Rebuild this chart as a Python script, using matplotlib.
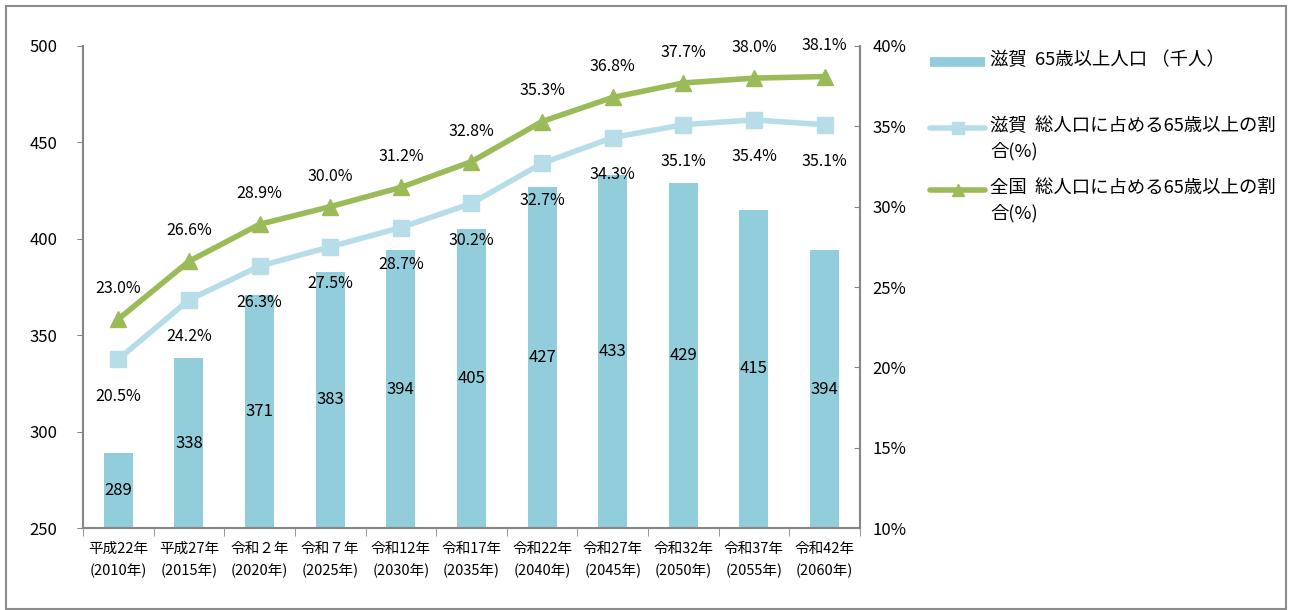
import matplotlib
matplotlib.use("Agg")
import matplotlib.pyplot as plt
from matplotlib.lines import Line2D
from matplotlib.patches import Rectangle
import numpy as np

plt.rcParams['font.family'] = ['Noto Sans CJK JP', 'DejaVu Sans']

categories = ["平成22年\n(2010年)", "平成27年\n(2015年)", "令和２年\n(2020年)", "令和７年\n(2025年)",
              "令和12年\n(2030年)", "令和17年\n(2035年)", "令和22年\n(2040年)", "令和27年\n(2045年)",
              "令和32年\n(2050年)", "令和37年\n(2055年)", "令和42年\n(2060年)"]
shiga_pop = [289, 338, 371, 383, 394, 405, 427, 433, 429, 415, 394]
shiga_pct = [20.5, 24.2, 26.3, 27.5, 28.7, 30.2, 32.7, 34.3, 35.1, 35.4, 35.1]
japan_pct = [23.0, 26.6, 28.9, 30.0, 31.2, 32.8, 35.3, 36.8, 37.7, 38.0, 38.1]

left_ticks = [250, 300, 350, 400, 450, 500]
right_ticks = [10, 15, 20, 25, 30, 35, 40]
legend_labels = ["滋賀  65歳以上人口 （千人）",
                 "滋賀  総人口に占める65歳以上の割\n合(%)",
                 "全国  総人口に占める65歳以上の割\n合(%)"]

bar_color = "#92CDDC"
shiga_line = "#B7DEE8"
japan_line = "#9BBB59"
axis_gray = "#868686"

W, H = 1289, 610
fig = plt.figure(figsize=(W / 100, H / 100), dpi=100)
fig.patches.append(Rectangle((0.005, 0.002), 0.993, 0.988, transform=fig.transFigure,
                             fill=False, edgecolor="#8c8c8c", linewidth=1.5))

ax = fig.add_axes([0.0644, 0.1344, 0.6027, 0.7902])
x = np.arange(len(categories))
ax.bar(x, [v - 250 for v in shiga_pop], bottom=250, width=0.41, color=bar_color, zorder=1)
ax.set_ylim(250, 500)
ax.set_xlim(-0.5, len(categories) - 0.5)
ax.set_yticks(left_ticks)
ax.tick_params(axis='y', direction='out', length=4.5, color=axis_gray, labelsize=12, pad=14)
for i, v in enumerate(shiga_pop):
    ax.text(i, (250 + v) / 2, str(v), ha='center', va='center', fontsize=12, zorder=5)

ax.set_xticks(x)
ax.set_xticklabels(categories, fontsize=10.5, linespacing=1.65)
ax.tick_params(axis='x', which='major', length=0, pad=10)
ax.set_xticks(np.arange(-0.5, len(categories), 1), minor=True)
ax.tick_params(axis='x', which='minor', length=6, color=axis_gray, direction='out')
for s in ['top', 'right']:
    ax.spines[s].set_visible(False)
for s in ['left', 'bottom']:
    ax.spines[s].set_color(axis_gray)
    ax.spines[s].set_linewidth(1.5)

ax2 = ax.twinx()
ax2.set_ylim(10, 40)
ax2.set_yticks(right_ticks)
ax2.set_yticklabels([f"{t}%" for t in right_ticks])
ax2.tick_params(axis='y', direction='in', length=4.5, color=axis_gray, labelsize=12, pad=9)
for s in ['top', 'left', 'bottom']:
    ax2.spines[s].set_visible(False)
ax2.spines['right'].set_color(axis_gray)
ax2.spines['right'].set_linewidth(1.5)

ax2.plot(x, shiga_pct, color=shiga_line, linewidth=4, marker='s', markersize=11, zorder=3)
ax2.plot(x, japan_pct, color=japan_line, linewidth=4, marker='^', markersize=12, zorder=4)

for i, v in enumerate(shiga_pct):
    ax2.annotate(f"{v:.1f}%", (i, v), xytext=(0, -26.5), textcoords='offset points',
                 ha='center', va='center', fontsize=11.5)
for i, v in enumerate(japan_pct):
    ax2.annotate(f"{v:.1f}%", (i, v), xytext=(0, 22), textcoords='offset points',
                 ha='center', va='center', fontsize=11.5)

# manual legend (figure pixel coordinates converted to fractions)
def fx(px):
    return px / W

def fy(py):
    return 1 - py / H

hx0, hx1, tx = 930, 985, 990
rows = [62, 128, 190]
fig.add_artist(Line2D([fx(hx0), fx(hx1)], [fy(rows[0])] * 2, color=bar_color, linewidth=7,
                      solid_capstyle='butt', transform=fig.transFigure))
fig.add_artist(Line2D([fx(hx0), fx(hx1)], [fy(rows[1])] * 2, color=shiga_line, linewidth=4,
                      solid_capstyle='round', transform=fig.transFigure))
fig.add_artist(Line2D([fx((hx0 + hx1) / 2)], [fy(rows[1])], color=shiga_line, marker='s',
                      markersize=8, linestyle='none', transform=fig.transFigure))
fig.add_artist(Line2D([fx(hx0), fx(hx1)], [fy(rows[2])] * 2, color=japan_line, linewidth=4,
                      solid_capstyle='round', transform=fig.transFigure))
fig.add_artist(Line2D([fx((hx0 + hx1) / 2)], [fy(rows[2])], color=japan_line, marker='^',
                      markersize=8, linestyle='none', transform=fig.transFigure))
for r, lab in zip(rows, legend_labels):
    fig.text(fx(tx), fy(r - 11), lab, ha='left', va='top', fontsize=13.2, linespacing=1.45)

fig.savefig("out.png", dpi=100)
